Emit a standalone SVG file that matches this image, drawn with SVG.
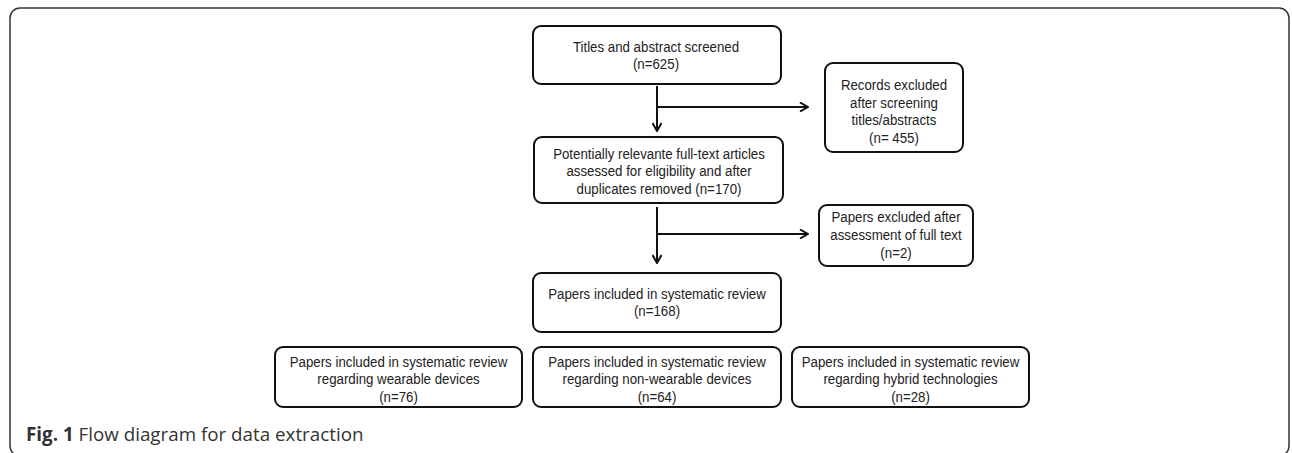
<svg xmlns="http://www.w3.org/2000/svg" width="1292" height="453" viewBox="0 0 1292 453">
<style>
.box{fill:#fff;stroke:#111;stroke-width:2}
.t{font-family:"Liberation Sans",Arial,sans-serif;font-size:15.5px;fill:#222;text-anchor:middle}
.ln{fill:none;stroke:#111;stroke-width:2}
.cap{font-family:"Open Sans","Noto Sans",sans-serif;font-size:18.8px;fill:#333}
</style>
<defs>
<marker id="ah" viewBox="0 0 10 10" refX="9" refY="5" markerWidth="10" markerHeight="10" markerUnits="userSpaceOnUse" orient="auto">
<path d="M1,0.5 L9,5 L1,9.5" fill="none" stroke="#111" stroke-width="2"/>
</marker>
</defs>
<rect x="10" y="8" width="1279" height="448" rx="10" fill="#fff" stroke="#333" stroke-width="1.5"/>
<g id="connectors">
<path class="ln" d="M657,86 V131" marker-end="url(#ah)"/>
<path class="ln" d="M657,107 H808" marker-end="url(#ah)"/>
<path class="ln" d="M657,207 V263" marker-end="url(#ah)"/>
<path class="ln" d="M657,234 H808" marker-end="url(#ah)"/>
</g>
<g id="n1">
<rect class="box" x="533" y="26" width="248" height="58" rx="8"/>
<g transform="translate(656,0) scale(0.857,1)">
<text class="t" x="0" y="52">Titles and abstract screened</text>
<text class="t" x="0" y="69.5">(n=625)</text>
</g>
</g>
<g id="n2">
<rect class="box" x="825" y="63" width="138" height="89" rx="8"/>
<g transform="translate(894,0) scale(0.857,1)">
<text class="t" x="0" y="90.5">Records excluded</text>
<text class="t" x="0" y="108">after screening</text>
<text class="t" x="0" y="125.5">titles/abstracts</text>
<text class="t" x="0" y="143">(n= 455)</text>
</g>
</g>
<g id="n3">
<rect class="box" x="534" y="137" width="249" height="66" rx="8"/>
<g transform="translate(659,0) scale(0.857,1)">
<text class="t" x="0" y="159">Potentially relevante full-text articles</text>
<text class="t" x="0" y="176.5">assessed for eligibility and after</text>
<text class="t" x="0" y="194">duplicates removed (n=170)</text>
</g>
</g>
<g id="n4">
<rect class="box" x="819" y="205" width="154" height="61" rx="8"/>
<g transform="translate(896,0) scale(0.857,1)">
<text class="t" x="0" y="222.5">Papers excluded after</text>
<text class="t" x="0" y="240.5">assessment of full text</text>
<text class="t" x="0" y="258.5">(n=2)</text>
</g>
</g>
<g id="n5">
<rect class="box" x="533" y="273" width="248" height="59" rx="8"/>
<g transform="translate(657,0) scale(0.857,1)">
<text class="t" x="0" y="299">Papers included in systematic review</text>
<text class="t" x="0" y="316.5">(n=168)</text>
</g>
</g>
<g id="n6">
<rect class="box" x="275" y="347" width="247" height="60" rx="8"/>
<g transform="translate(398.5,0) scale(0.857,1)">
<text class="t" x="0" y="367">Papers included in systematic review</text>
<text class="t" x="0" y="384.5">regarding wearable devices</text>
<text class="t" x="0" y="402.5">(n=76)</text>
</g>
</g>
<g id="n7">
<rect class="box" x="533" y="347" width="248" height="60" rx="8"/>
<g transform="translate(657,0) scale(0.857,1)">
<text class="t" x="0" y="367">Papers included in systematic review</text>
<text class="t" x="0" y="384.5">regarding non-wearable devices</text>
<text class="t" x="0" y="402.5">(n=64)</text>
</g>
</g>
<g id="n8">
<rect class="box" x="792" y="347" width="237" height="60" rx="8"/>
<g transform="translate(910.5,0) scale(0.857,1)">
<text class="t" x="0" y="367">Papers included in systematic review</text>
<text class="t" x="0" y="384.5">regarding hybrid technologies</text>
<text class="t" x="0" y="402.5">(n=28)</text>
</g>
</g>
<text class="cap" x="26" y="441"><tspan font-weight="bold">Fig. 1</tspan> Flow diagram for data extraction</text>
</svg>
